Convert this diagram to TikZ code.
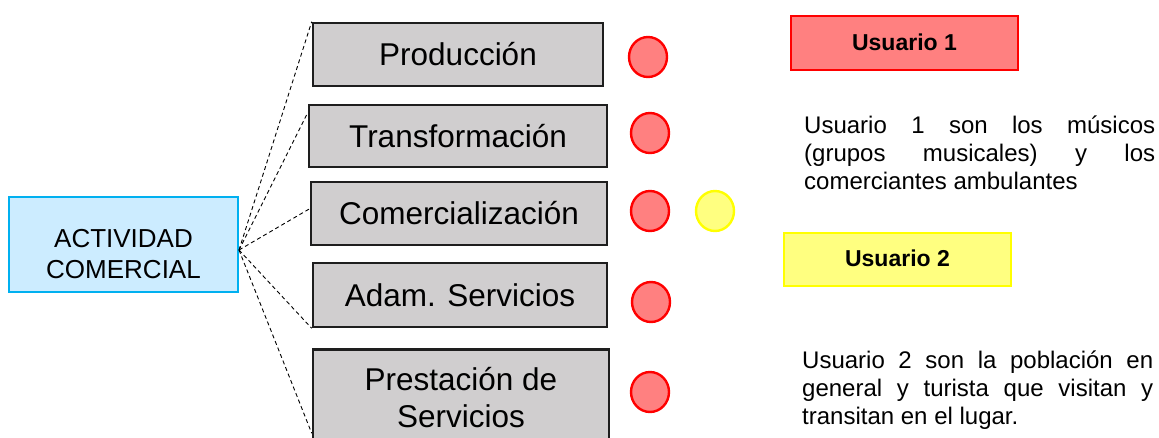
\documentclass[tikz,border=0pt]{standalone}
\usepackage{fontspec}
\setmainfont{Liberation Sans}
\usetikzlibrary{calc}
\definecolor{boxgray}{RGB}{208,206,207}
\definecolor{boxline}{RGB}{30,30,30}
\definecolor{actfill}{RGB}{204,236,255}
\definecolor{actline}{RGB}{0,176,240}
\definecolor{pinkfill}{RGB}{255,128,128}
\definecolor{yelfill}{RGB}{255,255,128}
\definecolor{yelline}{RGB}{255,255,0}
\tikzset{
  graybox/.style={draw=boxline, line width=2.6pt, fill=boxgray, inner sep=0pt,
    font=\fontsize{31.5}{37}\selectfont, text height=22.5pt, text depth=0pt},
  actbox/.style={draw=actline, line width=2pt, fill=actfill, inner sep=0pt},
  reddot/.style={ellipse shape/.try, draw=red, line width=2.4pt, fill=pinkfill},
  yeldot/.style={draw=yelline, line width=2.4pt, fill=yelfill},
  userbox/.style={line width=2.4pt, inner sep=0pt,
    font=\bfseries\fontsize{23}{27}\selectfont, text height=16.5pt, text depth=0pt},
  link/.style={draw=black, line width=0.9pt, dash pattern=on 4pt off 3pt},
  para/.style={anchor=base west, inner sep=0pt, font=\fontsize{24}{28}\selectfont}
}
\begin{document}
\begin{tikzpicture}[x=1pt,y=-1pt]
\useasboundingbox (0,0) rectangle (1159,437);
\clip (0,0) rectangle (1159,437);

% main node
\node[actbox, minimum width=229pt, minimum height=95pt] (act) at (123.5,244.5) {};
\node[inner sep=0pt, anchor=base, font=\fontsize{26}{31}\selectfont] (actlabel) at (123.5,247)
  {\vtop{\baselineskip=31pt \hbox to 0pt{\hss ACTIVIDAD\hss}\hbox to 0pt{\hss COMERCIAL\hss}}};

% gray boxes
\node[graybox, minimum width=290pt, minimum height=63pt] (prod) at (458,54.5) {Producción};
\node[graybox, minimum width=298pt, minimum height=62pt] (trans) at (458,136) {Transformación};
\node[graybox, minimum width=296pt, minimum height=63pt] (comer) at (459,213.5) {Comercialización};
\node[graybox, minimum width=294pt, minimum height=64pt] (adam) at (460,295) {Adam. Servicios};
\node[graybox, minimum width=296pt, minimum height=104pt] (prest) at (461,401.5) {};
\node[inner sep=0pt, anchor=base, font=\fontsize{31.5}{37}\selectfont] (prestlabel) at (461,390)
  {\vtop{\baselineskip=37pt \hbox to 0pt{\hss Prestación de\hss}\hbox to 0pt{\hss Servicios\hss}}};

% connectors
\coordinate (hub) at (239,250);
\coordinate (tend) at ($(trans.north west)+(0,9)$);
\coordinate (cend) at ($(comer.north west)+(0,28)$);
\coordinate (pend) at ($(prest.north west)+(0,85)$);
\draw[link] (hub) -- (prod.north west);
\draw[link] (hub) -- (tend);
\draw[link] (hub) -- (cend);
\draw[link] (hub) -- (adam.south west);
\draw[link] (hub) -- (pend);

% dots
\draw[draw=red, line width=2.4pt, fill=pinkfill] (648,57) ellipse (19pt and 20pt) coordinate (d1);
\draw[draw=red, line width=2.4pt, fill=pinkfill] (650,133) ellipse (19pt and 20pt) coordinate (d2);
\draw[draw=red, line width=2.4pt, fill=pinkfill] (650,211) ellipse (19pt and 20pt) coordinate (d3);
\draw[draw=yelline, line width=2.4pt, fill=yelfill] (715,211) ellipse (19pt and 20pt) coordinate (d4);
\draw[draw=red, line width=2.4pt, fill=pinkfill] (651,302) ellipse (19pt and 20pt) coordinate (d5);
\draw[draw=red, line width=2.4pt, fill=pinkfill] (650,392) ellipse (19pt and 20pt) coordinate (d6);

% user boxes
\node[userbox, draw=red, fill=pinkfill, minimum width=227pt, minimum height=54pt] (u1) at (904.5,43) {};
\node[userbox, anchor=base] (u1label) at (904.5,50) {Usuario 1};
\node[userbox, draw=yelline, fill=yelfill, minimum width=227pt, minimum height=53pt] (u2) at (897.5,259.5) {};
\node[userbox, anchor=base] (u2label) at (897.5,266) {Usuario 2};

% paragraphs
\node[para] (u1txt) at (804,133)
  {\vtop{\baselineskip=28pt
   \hbox to 351pt{Usuario\hfill 1\hfill son\hfill los\hfill músicos}
   \hbox to 351pt{(grupos\hfill musicales)\hfill y\hfill los}
   \hbox to 351pt{comerciantes ambulantes\hfill}}};
\node[para] (u2txt) at (802,368)
  {\vtop{\baselineskip=28pt
   \hbox to 351pt{Usuario\hfill 2\hfill son\hfill la\hfill población\hfill en}
   \hbox to 351pt{general\hfill y\hfill turista\hfill que\hfill visitan\hfill y}
   \hbox to 351pt{transitan en el lugar.\hfill}}};
\end{tikzpicture}
\end{document}
